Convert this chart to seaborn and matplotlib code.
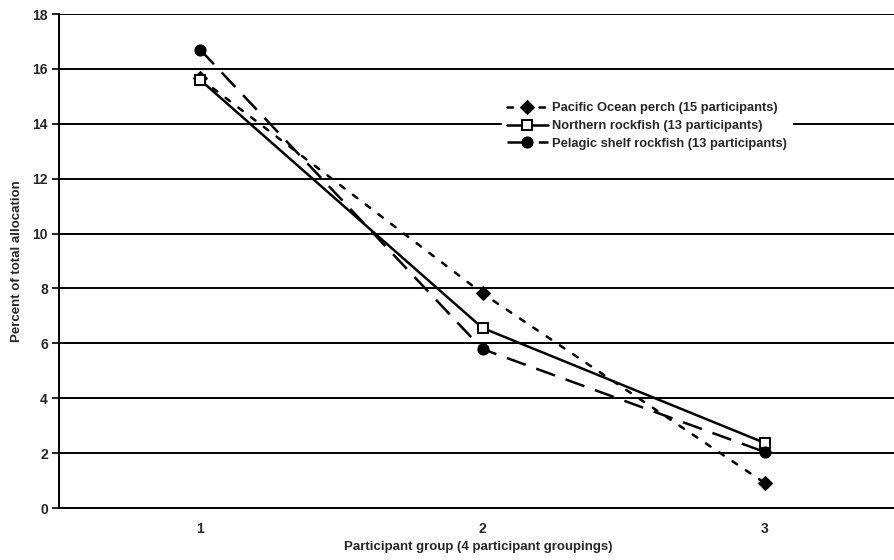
import matplotlib
matplotlib.use("Agg")
import matplotlib.pyplot as plt
import seaborn as sns
import pandas as pd

groups = [1, 2, 3]
pacific_ocean_perch = [15.65, 7.82, 0.91]
northern_rockfish = [15.6, 6.56, 2.37]
pelagic_shelf_rockfish = [16.7, 5.79, 2.04]
series_names = ["Pacific Ocean perch (15 participants)",
                "Northern rockfish (13 participants)",
                "Pelagic shelf rockfish (13 participants)"]
y_ticks = [0, 2, 4, 6, 8, 10, 12, 14, 16, 18]

sns.set_theme(style="white")
plt.rcParams['font.family'] = ['Liberation Sans', 'DejaVu Sans']
plt.rcParams['font.weight'] = 'bold'

df = pd.DataFrame({
    "group": groups * 3,
    "value": pacific_ocean_perch + northern_rockfish + pelagic_shelf_rockfish,
    "series": [series_names[0]] * 3 + [series_names[1]] * 3 + [series_names[2]] * 3,
})

fig = plt.figure(figsize=(8.94, 5.6), dpi=100)
ax = fig.add_axes([59/894, 1 - 508/560, 847/894, 494/560])

styles = {
    series_names[0]: dict(linestyle=(0, (2.2, 4.2)), marker="D", markersize=7.5,
                          markerfacecolor="black", dash_capstyle="round"),
    series_names[1]: dict(linestyle="-", marker="s", markersize=7,
                          markerfacecolor="white", markeredgewidth=1.4),
    series_names[2]: dict(linestyle=(0, (8, 4.5)), marker="o", markersize=8,
                          markerfacecolor="black"),
}
for name in series_names:
    sub = df[df["series"] == name]
    sns.lineplot(data=sub, x="group", y="value", ax=ax, color="black",
                 linewidth=1.8, markeredgecolor="black", label=name,
                 **styles[name])

ax.set_xlim(0.5, 3.5)
ax.set_ylim(0, 18)
ax.set_yticks(y_ticks)
ax.set_xticks(groups)
ax.set_xticklabels([str(g) for g in groups], fontsize=10, fontweight="bold")
ax.set_yticklabels([str(t) for t in y_ticks], fontsize=10, fontweight="bold")
ax.yaxis.grid(True, color="black", linewidth=1.4)
ax.set_axisbelow(True)
for s in ["top", "right"]:
    ax.spines[s].set_visible(False)
for s in ["left", "bottom"]:
    ax.spines[s].set_color("black")
    ax.spines[s].set_linewidth(1.4)
ax.tick_params(axis="y", which="both", left=True, length=5, width=1.2,
               color="black", pad=3)
ax.tick_params(axis="x", length=0, pad=10)
ax.set_xlabel("Participant group (4 participant groupings)", fontsize=9.5,
              fontweight="bold")
ax.set_ylabel("Percent of total allocation", fontsize=9.5, fontweight="bold")
ax.xaxis.set_label_coords((478 - 59) / 847, -0.066)
ax.yaxis.set_label_coords(-(59 - 23) / 847, 0.5)

leg = ax.legend(loc="upper left", bbox_to_anchor=(0.515, 0.845), frameon=True,
                facecolor="white", edgecolor="white", framealpha=1,
                fancybox=False, fontsize=9.3, handlelength=3.2,
                handletextpad=0.3, labelspacing=0.45, borderpad=0.4)
for t in leg.get_texts():
    t.set_fontweight("bold")

fig.savefig("out.png", dpi=100)
